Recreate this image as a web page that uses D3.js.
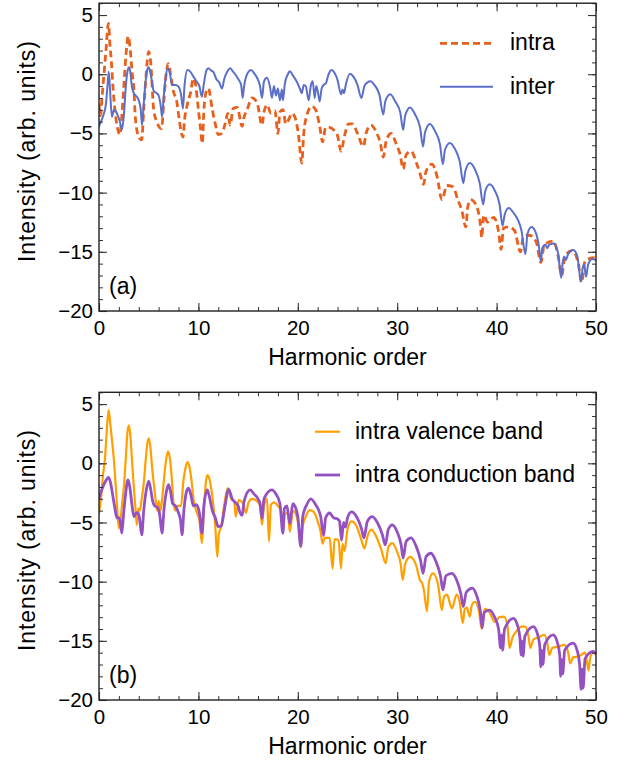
<!DOCTYPE html>
<html><head><meta charset="utf-8">
<script src="https://cdn.jsdelivr.net/npm/d3@7"></script>
<style>
body{margin:0;background:#fff}
text{font-family:"Liberation Sans",Arial,Helvetica,sans-serif;fill:#000}
</style>
</head><body>
<svg id="c" width="632" height="763"></svg>
<script>
// ---------- data ----------
const xTicks = [0, 10, 20, 30, 40, 50];
const yTicks = [-20, -15, -10, -5, 0, 5];
const xLabel = "Harmonic order";
const yLabel = "Intensity (arb. units)";
const legendA = ["intra", "inter"];
const legendB = ["intra valence band", "intra conduction band"];
const tags = ["(a)", "(b)"];

// panel (a): intraband (dashed)
const intraA = [[0,-2.5],[0.15,-3.5],[0.3,-2.0],[0.5,0],[0.7,2.0],[0.95,4.3],[1.1,2.5],[1.25,1.0],[1.4,-1.0],[1.6,-3.0],[1.85,-4.5],[2.1,-5.1],[2.3,-3.5],[2.5,-1.0],[2.7,1.5],[2.95,3.2],[3.15,2.0],[3.35,0],[3.5,-1.05],[3.65,-3.6],[4.0,-5.3],[4.29,-5.55],[4.5,-3.0],[4.7,-0.5],[5.0,1.9],[5.2,1.0],[5.5,-3.0],[5.8,-4.0],[6.3,-4.6],[6.5,-2.5],[6.75,0],[6.97,0.9],[7.2,0],[7.5,-1.5],[7.8,-2.2],[8.1,-4.0],[8.3,-5.0],[8.45,-5.3],[8.6,-3.9],[8.9,-2.5],[9.2,-1.6],[9.5,-0.35],[9.7,-0.8],[10.0,-3.0],[10.2,-4.5],[10.4,-5.85],[10.55,-3.0],[10.85,-1.3],[11.0,-1.2],[11.4,-3.0],[11.7,-4.2],[12.0,-5.1],[12.35,-5.0],[12.7,-4.15],[12.95,-3.3],[13.2,-4.3],[13.5,-2.9],[13.9,-2.8],[14.4,-4.4],[14.6,-3.6],[14.9,-3.0],[15.4,-2.0],[15.9,-2.4],[16.4,-4.3],[16.6,-3.2],[16.9,-2.6],[17.3,-3.3],[17.7,-3.1],[18.0,-5.0],[18.2,-3.2],[18.5,-3.0],[18.8,-4.2],[19.1,-3.8],[19.4,-3.3],[19.7,-3.6],[20.05,-5.0],[20.4,-7.5],[20.6,-5.0],[20.9,-3.5],[21.4,-2.7],[21.8,-3.0],[22.2,-4.4],[22.5,-5.7],[22.8,-4.5],[23.2,-4.5],[23.6,-4.7],[24.0,-5.2],[24.35,-6.5],[24.7,-5.2],[25.1,-4.2],[25.5,-4.2],[26.0,-5.0],[26.6,-6.1],[26.9,-4.9],[27.35,-4.3],[27.9,-4.9],[28.3,-5.8],[28.6,-7.0],[28.9,-5.6],[29.4,-5.0],[29.9,-5.9],[30.3,-6.8],[30.6,-8.0],[30.9,-6.8],[31.4,-6.5],[31.9,-7.4],[32.3,-8.4],[32.65,-9.3],[32.9,-8.2],[33.5,-7.6],[34.0,-8.6],[34.5,-10.6],[35.0,-9.4],[35.6,-9.5],[36.1,-10.6],[36.5,-11.5],[36.9,-12.9],[37.1,-11.2],[37.4,-10.6],[37.9,-11.0],[38.4,-12.9],[38.5,-13.8],[38.7,-11.9],[39.1,-12.5],[39.7,-12.1],[40.2,-13.3],[40.45,-14.8],[40.7,-13.0],[41.2,-12.9],[41.8,-13.2],[42.4,-15.0],[42.7,-13.7],[43.3,-13.6],[44.0,-14.2],[44.45,-15.9],[44.8,-14.4],[45.7,-14.1],[46.2,-15.4],[46.55,-17.0],[46.9,-15.3],[47.6,-14.9],[48.2,-15.9],[48.55,-17.6],[48.9,-15.8],[49.7,-15.5],[50,-15.6]];

// panel (a): interband (solid)
const interA = [[0,-4.4],[0.3,-3.8],[0.5,-3.3],[0.7,-2.5],[0.85,-1],[0.98,0.2],[1.1,-1.2],[1.3,-3.6],[1.5,-3.0],[1.8,-3.3],[2.1,-4.0],[2.3,-4.7],[2.5,-3.5],[2.7,-1.0],[2.9,0.4],[3.0,0.6],[3.15,0.2],[3.3,-1.0],[3.5,-1.6],[3.8,-1.9],[4.0,-2.2],[4.2,-3.0],[4.33,-4.3],[4.5,-2.5],[4.7,-0.5],[4.9,0.5],[5.0,0.6],[5.2,0],[5.5,-1.4],[5.8,-1.6],[6.0,-1.8],[6.2,-2.6],[6.35,-3.6],[6.5,-2.0],[6.7,-0.3],[6.95,0.5],[7.15,0],[7.35,-0.9],[7.7,-0.9],[8.0,-1.05],[8.25,-1.7],[8.45,-2.9],[8.6,-1.0],[8.9,0.35],[9.2,0.2],[9.5,-0.2],[9.8,-0.6],[10.1,-1.0],[10.35,-1.9],[10.55,-0.8],[10.8,0.3],[11.0,0.5],[11.3,0.3],[11.5,0.2],[11.8,-0.4],[12.1,-0.7],[12.37,-1.2],[12.6,-0.4],[12.9,0.2],[13.2,0.5],[13.5,0.2],[13.7,0],[14.0,-0.4],[14.3,-0.9],[14.45,-2.0],[14.6,-1.0],[14.9,0],[15.3,0.35],[15.6,0.1],[15.9,-0.3],[16.2,-1.0],[16.4,-2.0],[16.6,-0.6],[16.9,-0.3],[17.2,-1.05],[17.4,-2.0],[17.6,-1.0],[17.8,-1.8],[18.0,-1.2],[18.2,-2.2],[18.4,-1.3],[18.5,-2.2],[18.7,-0.8],[19.0,0],[19.2,0.25],[19.5,-0.1],[19.9,-0.63],[20.2,-1.2],[20.4,-1.6],[20.6,-0.9],[20.8,-1.0],[21.1,-2.2],[21.3,-1.0],[21.5,-0.6],[21.7,-2.0],[21.85,-1.0],[22.0,-1.4],[22.2,-2.3],[22.4,-1.2],[22.6,-0.9],[22.8,-0.8],[23.1,0],[23.4,0.35],[23.7,0.1],[24.0,-0.5],[24.35,-1.7],[24.5,-1.3],[24.65,-1.6],[24.85,-0.8],[25.25,0.05],[25.6,-0.2],[26.0,-0.9],[26.4,-2.0],[26.7,-1.0],[27.0,-0.7],[27.3,-0.6],[27.7,-0.9],[28.2,-1.7],[28.6,-3.4],[28.8,-2.3],[29.3,-1.7],[29.8,-2.3],[30.3,-3.2],[30.6,-4.7],[30.8,-3.5],[31.3,-2.8],[31.8,-3.4],[32.3,-4.5],[32.6,-6.1],[32.8,-4.9],[33.3,-4.2],[33.8,-4.8],[34.3,-5.9],[34.6,-7.6],[34.8,-6.4],[35.3,-5.8],[35.8,-6.3],[36.3,-7.4],[36.65,-9.2],[36.85,-8.2],[37.3,-7.5],[37.8,-8.0],[38.3,-9.2],[38.65,-11.0],[38.85,-9.9],[39.3,-9.3],[39.8,-9.8],[40.3,-11.0],[40.6,-12.8],[40.8,-11.9],[41.2,-11.3],[41.7,-11.7],[42.5,-13.2],[42.9,-15.2],[43.1,-13.5],[43.5,-12.9],[43.9,-13.3],[44.25,-14.5],[44.45,-15.8],[44.6,-14.7],[44.9,-14.4],[45.1,-14.7],[45.3,-14.4],[45.8,-14.3],[46.2,-15.2],[46.5,-17.2],[46.65,-15.9],[46.8,-15.4],[46.95,-15.7],[47.2,-15.2],[47.7,-14.85],[48.1,-15.3],[48.5,-17.5],[48.65,-16.4],[48.8,-16.1],[49.0,-17.1],[49.2,-16.1],[49.6,-15.6],[50,-15.7]];

// panel (b): intra valence band
const valB = [[0,-4.2],[0.2,-3.0],[0.4,-1.0],[0.6,0.4],[0.8,3.0],[0.97,4.5],[1.15,3.2],[1.3,2.0],[1.5,0.3],[1.65,-1.5],[1.8,-3.4],[2.0,-5.5],[2.2,-4.5],[2.35,-3.2],[2.5,-2.0],[2.7,0.5],[2.85,2.5],[3.0,3.2],[3.15,2.4],[3.3,0.5],[3.5,-2.0],[3.65,-3.6],[3.8,-5.2],[3.95,-3.8],[4.1,-4.0],[4.3,-3.0],[4.5,-1.7],[4.7,0.3],[4.85,1.6],[5.0,2.1],[5.15,1.5],[5.35,-0.4],[5.55,-2.0],[5.7,-3.1],[5.85,-4.0],[6.0,-3.2],[6.2,-4.0],[6.35,-3.0],[6.5,-1.7],[6.7,0],[6.94,1.0],[7.15,0.3],[7.3,-1.0],[7.5,-3.4],[7.7,-4.0],[7.9,-3.6],[8.25,-3.6],[8.5,-1.4],[8.7,-0.4],[8.9,0.1],[9.1,-0.3],[9.3,-1.4],[9.5,-3.0],[9.86,-4.2],[10.1,-4.8],[10.36,-6.75],[10.55,-4.0],[10.75,-1.6],[10.9,-1.0],[11.1,-1.3],[11.4,-2.8],[11.7,-5.35],[11.9,-7.9],[12.05,-6.0],[12.3,-5.3],[12.6,-3.5],[12.95,-2.1],[13.3,-3.0],[13.6,-3.2],[13.75,-4.5],[14.05,-3.1],[14.5,-3.4],[14.8,-4.2],[15.0,-3.4],[15.4,-3.0],[15.9,-3.2],[16.2,-3.6],[16.4,-5.2],[16.6,-3.6],[16.9,-3.0],[17.1,-6.6],[17.3,-3.5],[17.6,-3.3],[18.0,-3.6],[18.3,-4.0],[18.5,-5.8],[18.7,-4.3],[19.0,-4.2],[19.2,-5.8],[19.5,-4.0],[19.9,-4.5],[20.1,-5.5],[20.3,-7.1],[20.5,-5.3],[20.8,-4.5],[21.2,-3.95],[21.6,-4.1],[22.0,-4.9],[22.3,-5.8],[22.5,-6.8],[22.7,-6.3],[23.2,-6.3],[23.5,-8.9],[23.7,-6.4],[24.1,-6.5],[24.35,-8.9],[24.5,-6.8],[24.7,-7.4],[25.0,-5.6],[25.4,-4.9],[25.9,-5.3],[26.4,-6.5],[26.7,-7.2],[27.0,-6.2],[27.4,-5.6],[27.9,-6.2],[28.4,-7.3],[28.85,-8.45],[29.1,-7.1],[29.5,-6.75],[30.0,-7.5],[30.35,-8.5],[30.55,-9.85],[30.8,-8.5],[31.3,-7.9],[31.9,-8.6],[32.3,-9.9],[32.5,-10.1],[32.7,-10.8],[33.0,-12.5],[33.2,-10.0],[33.6,-9.3],[34.1,-10.2],[34.5,-12.4],[34.7,-11.3],[35.0,-11.1],[35.5,-12.25],[35.98,-11.1],[36.3,-11.8],[36.6,-13.5],[36.8,-12.3],[37.0,-12.2],[37.3,-12.95],[37.5,-12.0],[37.8,-11.7],[38.2,-12.4],[38.5,-14.0],[38.8,-12.3],[39.3,-12.6],[39.8,-13.4],[40.3,-13.0],[40.75,-12.95],[41.1,-13.8],[41.3,-15.6],[41.6,-14.7],[42.0,-14.2],[42.5,-13.8],[42.9,-13.8],[43.2,-14.6],[43.4,-15.6],[43.7,-14.9],[44.2,-14.7],[44.8,-14.5],[45.1,-15.2],[45.3,-16.2],[45.6,-15.6],[46.2,-15.5],[46.8,-15.35],[47.2,-16.0],[47.4,-16.9],[47.7,-16.4],[48.3,-16.3],[48.9,-16.0],[49.1,-16.8],[49.25,-17.5],[49.4,-16.5],[49.7,-16.0],[50,-16.1]];

// panel (b): intra conduction band
const conB = [[0,-2.95],[0.3,-2.2],[0.6,-1.6],[0.97,-1.2],[1.2,-1.8],[1.4,-2.8],[1.6,-3.8],[1.8,-4.6],[2.0,-4.6],[2.15,-5.0],[2.3,-5.9],[2.45,-4.5],[2.65,-2.8],[2.92,-1.4],[3.1,-2.0],[3.3,-3.4],[3.5,-4.5],[3.75,-4.2],[3.95,-4.2],[4.1,-4.8],[4.3,-6.05],[4.5,-4.0],[4.75,-2.3],[5.0,-1.5],[5.2,-2.2],[5.4,-3.2],[5.6,-3.6],[5.85,-3.7],[6.1,-4.3],[6.34,-5.9],[6.55,-3.8],[6.8,-2.3],[7.0,-1.8],[7.2,-2.4],[7.4,-3.4],[7.7,-3.6],[8.0,-4.2],[8.2,-4.8],[8.35,-6.05],[8.55,-3.9],[8.8,-2.4],[9.0,-2.1],[9.2,-2.5],[9.5,-3.6],[9.8,-3.5],[10.1,-4.2],[10.36,-5.9],[10.55,-3.6],[10.9,-2.25],[11.1,-2.8],[11.4,-4.0],[11.7,-4.6],[12.0,-5.35],[12.3,-5.3],[12.6,-4.0],[13.05,-2.2],[13.4,-3.0],[13.7,-3.3],[14.0,-3.6],[14.2,-4.2],[14.4,-4.4],[14.6,-3.2],[15.2,-2.25],[15.6,-2.6],[16.0,-3.0],[16.2,-3.4],[16.4,-4.65],[16.6,-3.0],[17.4,-2.25],[17.8,-2.6],[18.2,-3.4],[18.5,-5.9],[18.65,-3.8],[18.9,-3.6],[19.2,-5.1],[19.5,-3.4],[19.7,-3.6],[20.0,-4.5],[20.3,-7.0],[20.5,-4.5],[20.9,-3.5],[21.3,-3.0],[21.8,-3.5],[22.3,-4.5],[22.6,-6.1],[22.8,-4.6],[23.2,-4.2],[23.6,-4.6],[24.0,-4.7],[24.2,-4.9],[24.4,-6.5],[24.6,-5.0],[24.8,-5.4],[25.0,-4.6],[25.4,-4.1],[25.9,-4.5],[26.4,-5.5],[26.65,-6.3],[27.0,-4.9],[27.5,-4.5],[28.0,-5.0],[28.5,-6.0],[28.8,-6.9],[29.1,-5.6],[29.5,-5.2],[30.0,-5.8],[30.4,-6.9],[30.6,-8.0],[30.9,-6.6],[31.4,-6.3],[31.9,-7.0],[32.35,-8.2],[32.6,-9.3],[32.9,-7.9],[33.4,-7.6],[33.9,-8.3],[34.35,-9.5],[34.6,-10.7],[34.9,-9.5],[35.5,-9.3],[36.0,-9.9],[36.4,-11.0],[36.65,-12.1],[36.95,-10.9],[37.55,-10.55],[38.0,-11.2],[38.35,-12.4],[38.55,-13.9],[38.75,-12.6],[39.3,-12.4],[39.8,-13.0],[40.2,-14.0],[40.4,-15.6],[40.5,-14.5],[40.6,-15.8],[40.8,-14.0],[41.7,-13.1],[42.1,-13.7],[42.35,-14.8],[42.45,-16.2],[42.55,-15.0],[42.65,-16.3],[42.85,-14.6],[43.7,-13.8],[44.1,-14.4],[44.35,-15.5],[44.45,-17.2],[44.55,-15.8],[44.65,-17.0],[44.85,-15.3],[45.7,-14.5],[46.1,-15.1],[46.35,-16.2],[46.45,-18.0],[46.55,-16.6],[46.65,-17.8],[46.85,-15.8],[47.7,-15.2],[48.1,-15.8],[48.35,-17.0],[48.5,-19.1],[48.6,-17.4],[48.7,-19.0],[48.9,-16.5],[49.7,-15.9],[50,-16.1]];

// ---------- drawing ----------
const svg = d3.select("#c");
const X0 = 99, X1 = 596;
const x = d3.scaleLinear().domain([0, 50]).range([X0, X1]);
const fmt = d => (d < 0 ? "\u2212" + Math.abs(d) : String(d));

function panel(idx, top, bottom, series, legend, legendPos) {
  const y = d3.scaleLinear().domain([-20, 6]).range([bottom, top]);
  const g = svg.append("g");
  const clipId = "clip" + idx;
  svg.append("clipPath").attr("id", clipId).append("rect")
    .attr("x", X0).attr("y", top).attr("width", X1 - X0).attr("height", bottom - top);

  // lines
  const line = d3.line().x(d => x(d[0])).y(d => y(d[1])).curve(d3.curveMonotoneX);
  const lg = g.append("g").attr("clip-path", `url(#${clipId})`);
  series.forEach(s => {
    lg.append("path").datum(s.data).attr("d", line)
      .attr("fill", "none").attr("stroke", s.color).attr("stroke-width", s.width)
      .attr("stroke-linejoin", "round").attr("stroke-linecap", s.dash ? "butt" : "round")
      .attr("stroke-dasharray", s.dash || null);
  });

  // axes
  const xMinor = d3.range(0, 51, 2);
  const yMinor = d3.range(-20, 7, 1);
  const mk = i => (i === 0 ? d3.axisBottom(x) : i === 1 ? d3.axisTop(x) : i === 2 ? d3.axisLeft(y) : d3.axisRight(y));
  const trs = [`translate(0,${bottom})`, `translate(0,${top})`, `translate(${X0},0)`, `translate(${X1},0)`];
  [0, 1, 2, 3].forEach(i => {
    const isX = i < 2, labels = (i === 0 || i === 2);
    const minor = isX ? xMinor : yMinor, major = isX ? xTicks : yTicks;
    const a1 = g.append("g").attr("transform", trs[i])
      .call(mk(i).tickValues(minor).tickSizeInner(-4).tickSizeOuter(0).tickFormat(""));
    a1.select(".domain").remove();
    a1.selectAll("line").attr("stroke", "#333").attr("stroke-width", 1);
    const a2 = g.append("g").attr("transform", trs[i])
      .call(mk(i).tickValues(major).tickSizeInner(-8).tickSizeOuter(0)
        .tickPadding(isX ? 9 : 6).tickFormat(labels ? fmt : ""));
    a2.select(".domain").remove();
    a2.selectAll("line").attr("stroke", "#333").attr("stroke-width", 1.1);
    a2.selectAll("text").attr("font-size", 20.5).attr("fill", "#000")
      .style("font-family", '"Liberation Sans", Arial, sans-serif');
  });

  // frame
  g.append("rect").attr("x", X0).attr("y", top).attr("width", X1 - X0).attr("height", bottom - top)
    .attr("fill", "none").attr("stroke", "#222").attr("stroke-width", 1.4);

  // axis labels
  g.append("text").attr("x", (X0 + X1) / 2).attr("y", bottom + 54)
    .attr("text-anchor", "middle").attr("font-size", 23).text(xLabel);
  g.append("text").attr("transform", `translate(35,${(top + bottom) / 2 - 6}) rotate(-90)`)
    .attr("text-anchor", "middle").attr("font-size", 23).attr("letter-spacing", 0.9).text(yLabel);

  // tag
  g.append("text").attr("x", 109).attr("y", bottom - 17).attr("font-size", 23).text(tags[idx]);

  // legend
  legend.forEach((name, k) => {
    const s = series[k];
    const ly = legendPos.y + k * legendPos.dy;
    g.append("line").attr("x1", legendPos.x1).attr("x2", legendPos.x2)
      .attr("y1", ly).attr("y2", ly).attr("stroke", s.color).attr("stroke-width", s.width)
      .attr("stroke-dasharray", s.dash || null);
    g.append("text").attr("x", legendPos.tx).attr("y", ly + 7).attr("font-size", 23).text(name);
  });
}

panel(0, 3.2, 311, [
  { data: intraA, color: "#e8601c", width: 2.8, dash: "7,4" },
  { data: interA, color: "#5b6fc8", width: 2.0 }
], legendA, { x1: 440, x2: 493, tx: 510, y: 43.3, dy: 43.4 });

panel(1, 392.3, 700, [
  { data: valB, color: "#ffa000", width: 2.2 },
  { data: conB, color: "#9451c2", width: 2.8 }
], legendB, { x1: 315, x2: 340, tx: 355, y: 431.7, dy: 43.3 });
</script>
</body></html>
